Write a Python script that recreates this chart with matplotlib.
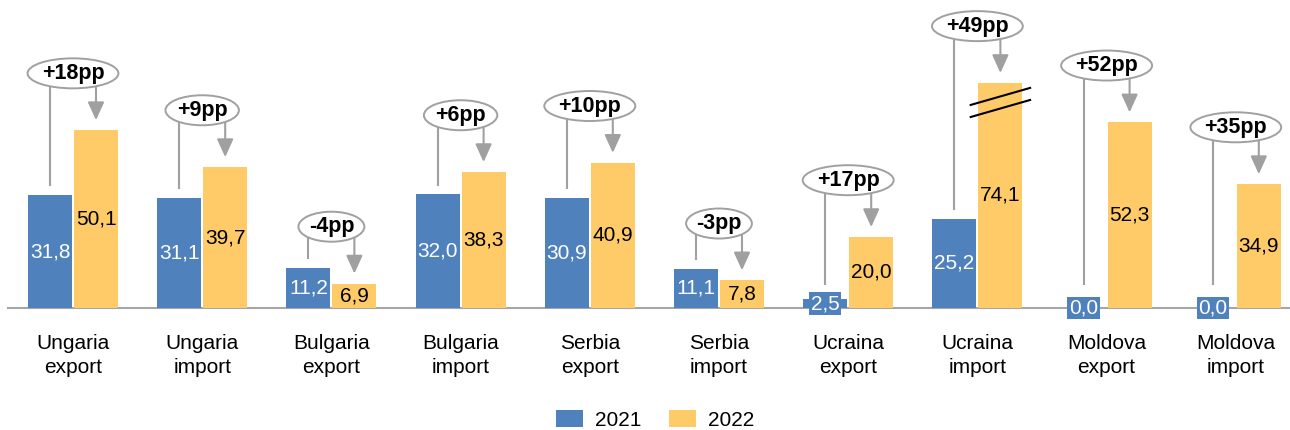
import numpy as np
import matplotlib
matplotlib.use("Agg")
import matplotlib.pyplot as plt
from matplotlib.patches import Ellipse

plt.rcParams['font.family'] = ['Liberation Sans', 'DejaVu Sans']

categories = ["Ungaria\nexport", "Ungaria\nimport", "Bulgaria\nexport", "Bulgaria\nimport",
              "Serbia\nexport", "Serbia\nimport", "Ucraina\nexport", "Ucraina\nimport",
              "Moldova\nexport", "Moldova\nimport"]
v2021 = [31.8, 31.1, 11.2, 32.0, 30.9, 11.1, 2.5, 25.2, 0.0, 0.0]
v2022 = [50.1, 39.7, 6.9, 38.3, 40.9, 7.8, 20.0, 74.1, 52.3, 34.9]
changes = ["+18pp", "+9pp", "-4pp", "+6pp", "+10pp", "-3pp", "+17pp", "+49pp", "+52pp", "+35pp"]
BREAK_AT = 63.4   # the 74,1 bar is drawn cut at this height

BLUE = "#4F81BD"
YELLOW = "#FFCB69"
GRAY = "#A0A0A0"

PX_X = 129.2   # pixels per category
PX_Y = 3.55    # pixels per percent

fig = plt.figure(figsize=(12.9, 4.3), dpi=100)
ax = fig.add_axes([8.4 / 1290, 122 / 430, 1292 / 1290, 308 / 430])
ax.set_xlim(-0.5, 9.5)
ax.set_ylim(0, 308 / PX_Y)

x = np.arange(len(categories))
w, off = 0.34, 0.178
d2022 = [min(v, BREAK_AT) for v in v2022]

ax.bar(x - off, v2021, w, color=BLUE, label="2021", zorder=2)
ax.bar(x + off, d2022, w, color=YELLOW, label="2022", zorder=2)

fmt = lambda v: f"{v:.1f}".replace(".", ",")
for i in range(len(x)):
    ax.text(x[i] - off, v2021[i] / 2, fmt(v2021[i]), ha="center", va="center",
            color="white", fontsize=15, zorder=4, clip_on=False,
            bbox=dict(boxstyle="square,pad=0.08", fc=BLUE, ec="none"))
    ax.text(x[i] + off, d2022[i] / 2, fmt(v2022[i]), ha="center", va="center",
            color="black", fontsize=15, zorder=4,
            bbox=dict(boxstyle="square,pad=0.08", fc=YELLOW, ec="none"))

# callouts: ellipse with change, line to 2021 bar, arrow to 2022 bar
texts = []
for i in range(len(x)):
    ey = d2022[i] + 16
    ax.plot([x[i] - off, x[i] - off], [ey, max(v2021[i] + 2.5, 6.5)],
            color=GRAY, lw=1.5, zorder=3, solid_capstyle="butt")
    ax.annotate("", xy=(x[i] + off, d2022[i] + 2.8), xytext=(x[i] + off, ey),
                arrowprops=dict(arrowstyle="-|>,head_length=0.55,head_width=0.25",
                                mutation_scale=20, color=GRAY, lw=1.5,
                                shrinkA=0, shrinkB=0), zorder=3)
    t = ax.text(x[i], ey, changes[i], ha="center", va="center", fontsize=15.5,
                fontweight="bold", zorder=6)
    texts.append((t, x[i], ey))

fig.canvas.draw()
for t, cx, cy in texts:
    bb = t.get_window_extent()
    ax.add_patch(Ellipse((cx, cy), bb.width * 1.45 / PX_X, 30 / PX_Y,
                         fc="white", ec=GRAY, lw=1.4, zorder=5, clip_on=False))

# break marks on the cut bar
bx = 7 + off
for dy in (0, 3.4):
    ax.plot([bx - 0.23, bx + 0.23], [BREAK_AT - 6.2 - dy, BREAK_AT - 1.4 - dy],
            color="black", lw=1.5, zorder=4)

ax.set_xticks(x, categories)
ax.tick_params(axis="x", length=0, pad=19, labelsize=15)
for lab in ax.get_xticklabels():
    lab.set_linespacing(1.32)
ax.set_yticks([])
for s in ("left", "right", "top"):
    ax.spines[s].set_visible(False)
ax.spines["bottom"].set_color("#A6A6A6")
ax.spines["bottom"].set_linewidth(1.5)
ax.spines["bottom"].set_zorder(1)

fig.legend(loc="center", bbox_to_anchor=(655 / 1290, 10 / 430), ncol=2, frameon=False,
           fontsize=15, handlelength=1.3, handleheight=0.9, handletextpad=0.6,
           columnspacing=1.3, borderpad=0.1)

fig.savefig("out.png", dpi=100)
